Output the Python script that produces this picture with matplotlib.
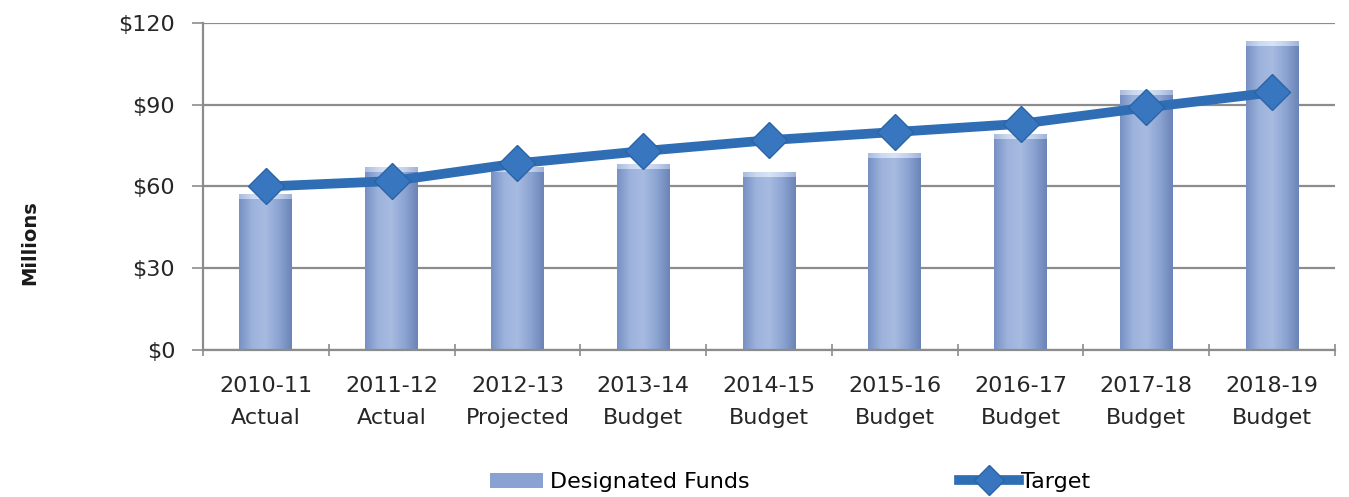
import matplotlib
matplotlib.use("Agg")
import matplotlib.pyplot as plt
import numpy as np
from matplotlib.colors import LinearSegmentedColormap
from matplotlib.lines import Line2D

plt.rcParams['font.family'] = ['DejaVu Sans']

# data (millions of dollars)
years = ["2010-11", "2011-12", "2012-13", "2013-14", "2014-15",
         "2015-16", "2016-17", "2017-18", "2018-19"]
status = ["Actual", "Actual", "Projected", "Budget", "Budget",
          "Budget", "Budget", "Budget", "Budget"]
designated_funds = [57, 67, 67, 68, 65, 72, 79, 95, 113]
target = [60, 62, 68.5, 73, 77, 80, 83, 89, 94.5]

labels = [f"{y}\n{s}" for y, s in zip(years, status)]
x = np.arange(len(years))

fig = plt.figure(figsize=(13.49, 4.97), dpi=100)
ax = fig.add_axes([0.1505, 0.2958, 0.8391, 0.6579])

bar_w = 0.42
bars = ax.bar(x, designated_funds, bar_w, color="#8AA2D2", zorder=2,
              label="Designated Funds")

# shaded cylinder look for each bar
shade = LinearSegmentedColormap.from_list(
    "shade", ["#7690C3", "#9DB3DC", "#A7BBE1", "#8CA4D2", "#6B84B6"])
cap = LinearSegmentedColormap.from_list(
    "cap", ["#A9BBDF", "#CBD8EF", "#D9E3F4", "#C3D1EC", "#9EB2DA"])
grad = np.linspace(0, 1, 256).reshape(1, -1)
for b in bars:
    x0, w, h = b.get_x(), b.get_width(), b.get_height()
    ax.imshow(grad, cmap=shade, aspect="auto", extent=[x0, x0 + w, 0, h],
              zorder=2.1, interpolation="bicubic")
    ax.imshow(grad, cmap=cap, aspect="auto",
              extent=[x0, x0 + w, h - 1.6, h], zorder=2.2)

line_col = "#2F6DB5"
ax.plot(x, target, color=line_col, lw=7, marker="D", markersize=18,
        markerfacecolor="#3877C0", markeredgecolor="#2A63A6",
        markeredgewidth=1, zorder=3, label="Target")

ax.set_xlim(-0.5, len(years) - 0.5)
ax.set_ylim(0, 120)
ax.set_yticks([0, 30, 60, 90, 120])
ax.set_yticklabels(["$0", "$30", "$60", "$90", "$120"])
ax.yaxis.grid(True, color="#8C8C8C", lw=1.6, zorder=0)
ax.set_axisbelow(True)

ax.set_xticks(x)
ax.set_xticklabels(labels, linespacing=1.75)
ax.set_xticks(np.arange(-0.5, len(years)), minor=True)
ax.tick_params(axis="x", which="major", length=0, pad=19, labelsize=16,
               labelcolor="#262626")
ax.tick_params(axis="x", which="minor", length=8, direction="inout",
               color="#8C8C8C", width=1.2)
ax.tick_params(axis="y", length=8, color="#8C8C8C", width=1.2,
               labelsize=16, labelcolor="#262626", pad=12)

for side in ["top", "right"]:
    ax.spines[side].set_visible(False)
for side in ["left", "bottom"]:
    ax.spines[side].set_color("#8C8C8C")
    ax.spines[side].set_linewidth(1.6)

fig.text(0.022, 0.511, "Millions", rotation=90, fontsize=14,
         fontweight="bold", ha="center", va="center", color="#1a1a1a")

line_handle = Line2D([], [], color=line_col, lw=7, marker="D",
                     markersize=15, markerfacecolor="#3877C0",
                     markeredgecolor="#2A63A6")
fig.legend([bars], ["Designated Funds"], loc="center left",
           bbox_to_anchor=(0.363, 0.03), frameon=False, fontsize=16,
           handlelength=2.4, handletextpad=0.3, borderpad=0,
           borderaxespad=0)
fig.legend([line_handle], ["Target"], loc="center left",
           bbox_to_anchor=(0.711, 0.03), frameon=False, fontsize=16,
           handlelength=2.7, handletextpad=0.1, borderpad=0,
           borderaxespad=0)

fig.savefig("out.png", dpi=100)
